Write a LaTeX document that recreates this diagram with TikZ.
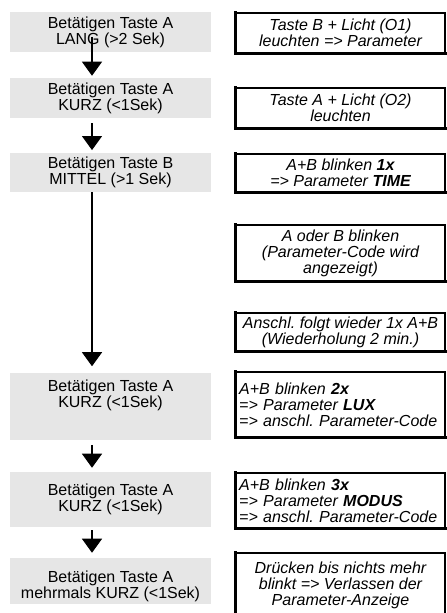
\documentclass[tikz,border=0pt]{standalone}
\usepackage{fontspec}
\setmainfont{Liberation Sans}
\usetikzlibrary{arrows.meta}
\definecolor{boxgray}{RGB}{230,230,230}
\frenchspacing
\begin{document}
\begin{tikzpicture}[x=0.75pt,y=-0.75pt,
  lbox/.style={fill=boxgray, draw=none, minimum width=150.75pt, inner sep=0pt},
  ltext/.style={align=center, font=\fontsize{12pt}{12pt}\selectfont\frenchspacing, inner sep=0pt},
  rbox/.style={draw=black, line width=1.1pt, minimum width=156.75pt, inner xsep=1.5pt, inner ysep=0pt,
    font=\fontsize{12pt}{12pt}\selectfont\itshape\frenchspacing},
  rc/.style={rbox, align=center},
  rl/.style={rbox, align=left, text width=152pt},
  edge/.style={line width=2.2pt, line cap=rect},
  arr/.style={line width=0.8pt, -{Triangle[width=15pt,length=10.5pt]}},
]
\useasboundingbox (0,0) rectangle (446,613);

% left gray boxes
\node[lbox, minimum height=30pt]    (L1) at (110.5,32) {};
\node[lbox, minimum height=30pt]    (L2) at (110.5,98) {};
\node[lbox, minimum height=29.25pt] (L3) at (110.5,172.5) {};
\node[lbox, minimum height=50.25pt] (L4) at (110.5,406) {};
\node[lbox, minimum height=41.25pt] (L5) at (110.5,499.5) {};
\node[lbox, minimum height=34.5pt]  (L6) at (110.5,581) {};

\node[ltext] (T1) at (110.5,32)  {Betätigen Taste A\\LANG (>2 Sek)};
\node[ltext] (T2) at (110.5,98)  {Betätigen Taste A\\KURZ (<1Sek)};
\node[ltext] (T3) at (110.5,172.5) {Betätigen Taste B\\MITTEL (>1 Sek)};
\node[ltext] (T4) at (110.5,395) {Betätigen Taste A\\KURZ (<1Sek)};
\node[ltext] (T5) at (110.5,499.5) {Betätigen Taste A\\KURZ (<1Sek)};
\node[ltext] (T6) at (110.5,586) {Betätigen Taste A\\mehrmals KURZ (<1Sek)};

% right framed boxes
\node[rc, minimum height=30pt]    (R1) at (340.5,33)  {Taste B + Licht (O1)\\leuchten => Parameter};
\node[rc, minimum height=30pt]    (R2) at (340.5,108) {Taste A + Licht (O2)\\leuchten};
\node[rc, minimum height=28.5pt]  (R3) at (340.5,173) {A+B blinken \textbf{1x}\\=> Parameter \textbf{TIME}};
\node[rc, minimum height=42pt]    (R4) at (340.5,253) {A oder B blinken\\(Parameter-Code wird\\angezeigt)};
\node[rc, minimum height=28.5pt]  (R5) at (340.5,332) {Anschl. folgt wieder 1x A+B\\(Wiederholung 2 min.)};
\node[rl, minimum height=48.75pt] (R6) at (340.5,404.5) {A+B blinken \textbf{2x}\\=> Parameter \textbf{LUX}\\=> anschl. Parameter-Code};
\node[rl, minimum height=41.25pt] (R7) at (340.5,500.5) {A+B blinken \textbf{3x}\\=> Parameter \textbf{MODUS}\\=> anschl. Parameter-Code};
\node[rc, minimum height=48pt]    (R8) at (340.5,585) {Drücken bis nichts mehr\\blinkt => Verlassen der\\Parameter-Anzeige};

\foreach \n in {R1,R2,R3,R4,R5,R6,R7,R8}
  \draw[edge] (\n.north west) -- (\n.south west) -- (\n.south east);

% arrows
\coordinate (ax) at (92,0);
\draw[arr, shorten <=3.75pt, shorten >=1.5pt] (L1.center -| ax) -- (L2.north -| ax);
\draw[arr, shorten <=3.75pt, shorten >=2pt]   (L2.south -| ax) -- (L3.north -| ax);
\draw[arr, shorten >=4.5pt]                   (L3.south -| ax) -- (L4.north -| ax);
\draw[arr, shorten <=3.75pt, shorten >=3pt]   (L4.south -| ax) -- (L5.north -| ax);
\draw[arr, shorten <=2.25pt, shorten >=3.75pt] (L5.south -| ax) -- (L6.north -| ax);
\end{tikzpicture}
\end{document}
